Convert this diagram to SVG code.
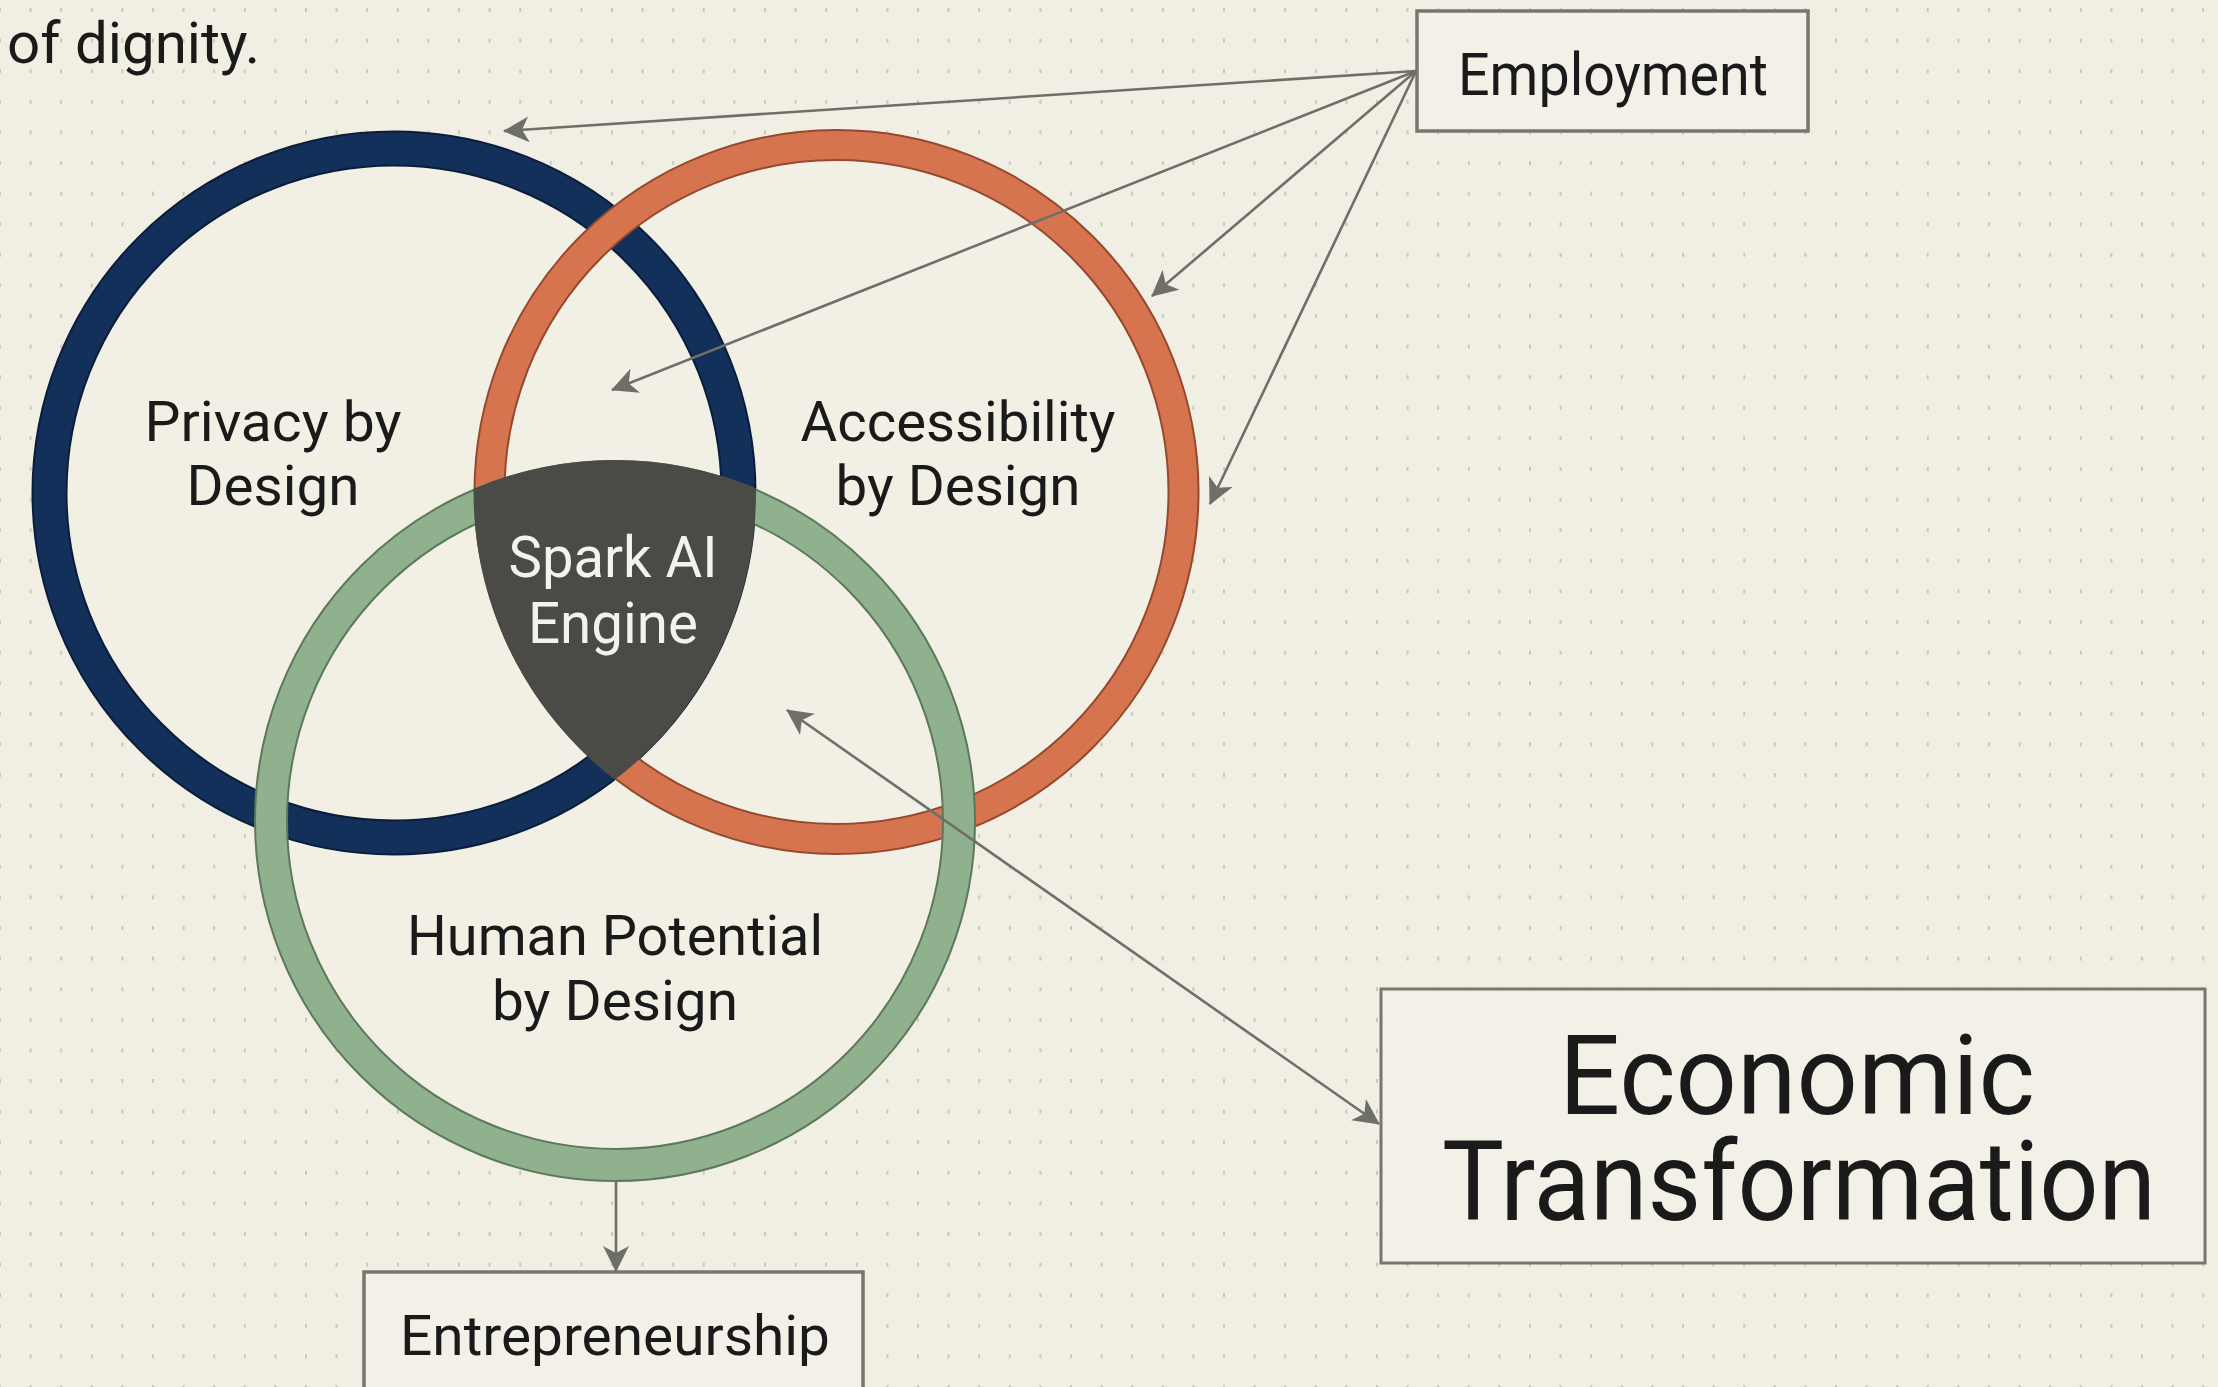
<svg xmlns="http://www.w3.org/2000/svg" width="2218" height="1387" viewBox="0 0 2218 1387">
  <style>
    .lbl { font-family: Roboto, "Liberation Sans", Arial, sans-serif; fill: #1a1a1a; text-anchor: middle; }
    .lbl-light { font-family: Roboto, "Liberation Sans", Arial, sans-serif; fill: #f4f2ea; text-anchor: middle; }
    .box { fill: #f3f1e7; stroke: #77776f; stroke-width: 3.5; }
    .conn { stroke: #6f6f6a; stroke-width: 2.6; fill: none; }
    .disc { fill: #f2f0e5; }
  </style>
  <defs>
    <pattern id="dots" x="-1" y="8" width="30.6" height="30.6" patternUnits="userSpaceOnUse">
      <rect x="0" y="0" width="2" height="4" fill="#cbc8b8"/>
    </pattern>
    <marker id="arr" viewBox="0 0 26 26" refX="25" refY="13" markerWidth="26" markerHeight="26" markerUnits="userSpaceOnUse" orient="auto-start-reverse">
      <path d="M0,0 L26,13 L0,26 L7,13 Z" fill="#6f6f6a"/>
    </marker>
    <clipPath id="clipNavy"><circle cx="394" cy="493" r="362"/></clipPath>
    <clipPath id="clipOrange"><circle cx="836.5" cy="492" r="363"/></clipPath>
  </defs>

  <!-- background -->
  <rect x="0" y="0" width="2218" height="1387" fill="#f1efe3"/>
  <rect x="0" y="0" width="2218" height="1387" fill="url(#dots)"/>

  <!-- paragraph tail -->
  <text class="lbl" x="7" y="63" font-size="58" style="text-anchor:start" textLength="253" lengthAdjust="spacingAndGlyphs">of dignity.</text>

  <!-- disc interiors -->
  <g id="interiors">
    <circle class="disc" cx="394" cy="493" r="362"/>
    <circle class="disc" cx="836.5" cy="492" r="363"/>
    <circle class="disc" cx="615" cy="821" r="361"/>
  </g>

  <!-- Privacy by Design ring -->
  <g id="privacy">
    <circle cx="394" cy="493" r="344.5" fill="none" stroke="#0a1d3a" stroke-width="36"/>
    <circle cx="394" cy="493" r="344.5" fill="none" stroke="#12305a" stroke-width="32"/>
    <text class="lbl" x="273" y="441" font-size="56" textLength="257" lengthAdjust="spacingAndGlyphs">Privacy by</text>
    <text class="lbl" x="273" y="505" font-size="56" textLength="173" lengthAdjust="spacingAndGlyphs">Design</text>
  </g>

  <!-- Accessibility by Design ring -->
  <g id="accessibility">
    <circle cx="836.5" cy="492" r="347" fill="none" stroke="#94492f" stroke-width="32"/>
    <circle cx="836.5" cy="492" r="347" fill="none" stroke="#d6744f" stroke-width="28"/>
    <text class="lbl" x="958" y="441" font-size="56" textLength="315" lengthAdjust="spacingAndGlyphs">Accessibility</text>
    <text class="lbl" x="958" y="505" font-size="56" textLength="245" lengthAdjust="spacingAndGlyphs">by Design</text>
  </g>

  <!-- Human Potential by Design ring -->
  <g id="human-potential">
    <circle cx="615" cy="821" r="344" fill="none" stroke="#5d785a" stroke-width="34"/>
    <circle cx="615" cy="821" r="344" fill="none" stroke="#90b18d" stroke-width="30"/>
    <text class="lbl" x="615" y="955" font-size="56" textLength="416" lengthAdjust="spacingAndGlyphs">Human Potential</text>
    <text class="lbl" x="615" y="1020" font-size="56" textLength="246" lengthAdjust="spacingAndGlyphs">by Design</text>
  </g>

  <!-- Spark AI Engine (triple intersection) -->
  <g id="spark-ai-engine">
    <g clip-path="url(#clipNavy)">
      <g clip-path="url(#clipOrange)">
        <circle cx="615" cy="821" r="361" fill="#4a4a46"/>
      </g>
    </g>
    <text class="lbl-light" x="613" y="577" font-size="57" textLength="209" lengthAdjust="spacingAndGlyphs">Spark AI</text>
    <text class="lbl-light" x="613" y="643" font-size="57" textLength="170" lengthAdjust="spacingAndGlyphs">Engine</text>
  </g>

  <!-- Employment -->
  <g id="employment">
    <rect class="box" x="1417" y="11" width="391" height="120"/>
    <text class="lbl" x="1613" y="95" font-size="60" textLength="310" lengthAdjust="spacingAndGlyphs">Employment</text>
  </g>

  <!-- Economic Transformation -->
  <g id="economic-transformation">
    <rect class="box" x="1381" y="989" width="824" height="274" style="stroke-width:3"/>
    <text class="lbl" x="1797" y="1114" font-size="112" textLength="476" lengthAdjust="spacingAndGlyphs">Economic</text>
    <text class="lbl" x="1799" y="1220" font-size="112" textLength="714" lengthAdjust="spacingAndGlyphs">Transformation</text>
  </g>

  <!-- Entrepreneurship -->
  <g id="entrepreneurship">
    <rect class="box" x="364" y="1272" width="499" height="140"/>
    <text class="lbl" x="615" y="1355" font-size="56" textLength="430" lengthAdjust="spacingAndGlyphs">Entrepreneurship</text>
  </g>

  <!-- connectors -->
  <g id="connectors">
    <line class="conn" x1="1416" y1="71" x2="504" y2="131" marker-end="url(#arr)"/>
    <line class="conn" x1="1416" y1="71" x2="612" y2="390" marker-end="url(#arr)"/>
    <line class="conn" x1="1416" y1="71" x2="1152" y2="296" marker-end="url(#arr)"/>
    <line class="conn" x1="1416" y1="71" x2="1210" y2="504" marker-end="url(#arr)"/>
    <line class="conn" x1="787" y1="710" x2="1379" y2="1124" marker-start="url(#arr)" marker-end="url(#arr)"/>
    <line class="conn" x1="616" y1="1182" x2="616" y2="1271" marker-end="url(#arr)"/>
  </g>
</svg>
